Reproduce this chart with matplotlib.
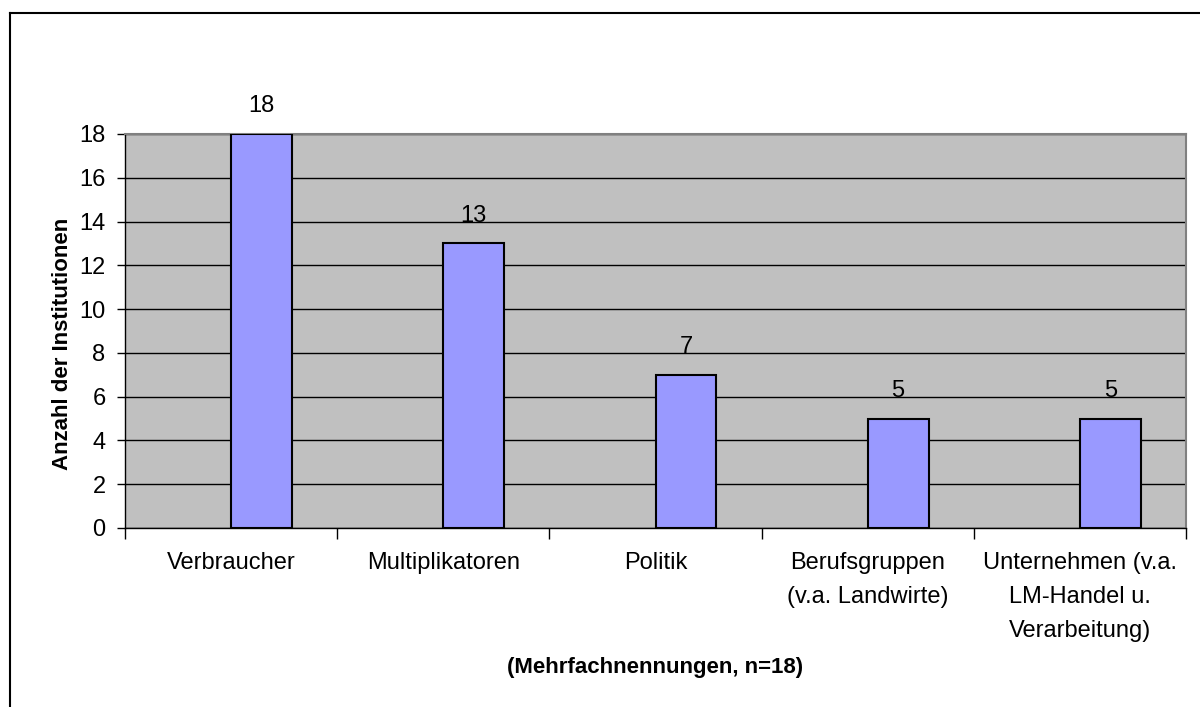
import matplotlib
matplotlib.use("Agg")
import matplotlib.pyplot as plt
from matplotlib.lines import Line2D

categories = ["Verbraucher", "Multiplikatoren", "Politik",
              "Berufsgruppen\n(v.a. Landwirte)",
              "Unternehmen (v.a.\nLM-Handel u.\nVerarbeitung)"]
values = [18, 13, 7, 5, 5]
yticks = [0, 2, 4, 6, 8, 10, 12, 14, 16, 18]
ylabel = "Anzahl der Institutionen"
xlabel = "(Mehrfachnennungen, n=18)"

plt.rcParams['font.family'] = ['Liberation Sans', 'DejaVu Sans']

fig = plt.figure(figsize=(12, 7.07), dpi=100)
ax = fig.add_axes([125/1200, 1 - 528/707, (1186-125)/1200, (528-134)/707])
ax.set_facecolor("#C0C0C0")

x = list(range(len(categories)))
bw = 0.287
bars = ax.bar(x, values, width=bw, align='edge', color="#9999FF",
              edgecolor="black", linewidth=1.5, zorder=3)
for xi, v in zip(x, values):
    ax.annotate(str(v), (xi + bw/2, v), xytext=(0, 12), textcoords='offset points',
                ha='center', va='bottom', fontsize=17, annotation_clip=False)

ax.set_xlim(-0.5, len(categories) - 0.5)
ax.set_ylim(0, 18)
ax.set_yticks(yticks)
ax.yaxis.grid(True, color="black", linewidth=1.0, zorder=1)
ax.set_axisbelow(True)

ax.set_xticks([i - 0.5 for i in range(len(categories) + 1)])
ax.set_xticklabels([])
ax.set_xticks(x, minor=True)
ax.set_xticklabels(categories, minor=True, fontsize=17, linespacing=1.72)
ax.tick_params(axis='x', which='major', length=8, width=1, direction='out')
ax.tick_params(axis='x', which='minor', length=0, pad=17)
ax.tick_params(axis='y', length=6, width=1, labelsize=17, pad=8, direction='out')

for s in ['top', 'right']:
    ax.spines[s].set_color("#808080")
    ax.spines[s].set_linewidth(1.5)
for s in ['left', 'bottom']:
    ax.spines[s].set_color("black")
    ax.spines[s].set_linewidth(1.0)

ax.set_ylabel(ylabel, fontsize=16, fontweight='bold')
ax.yaxis.set_label_coords(-0.049, 0.467)
fig.text(0.5 * (125 + 1186) / 1200, 1 - 668/707, xlabel, ha='center', va='center',
         fontsize=16, fontweight='bold')

fig.add_artist(Line2D([10/1200, 10/1200], [0, 1 - 13/707], color="black", linewidth=1.5))
fig.add_artist(Line2D([10/1200, 1], [1 - 13/707, 1 - 13/707], color="black", linewidth=1.5))

fig.savefig("out.png", dpi=100)
